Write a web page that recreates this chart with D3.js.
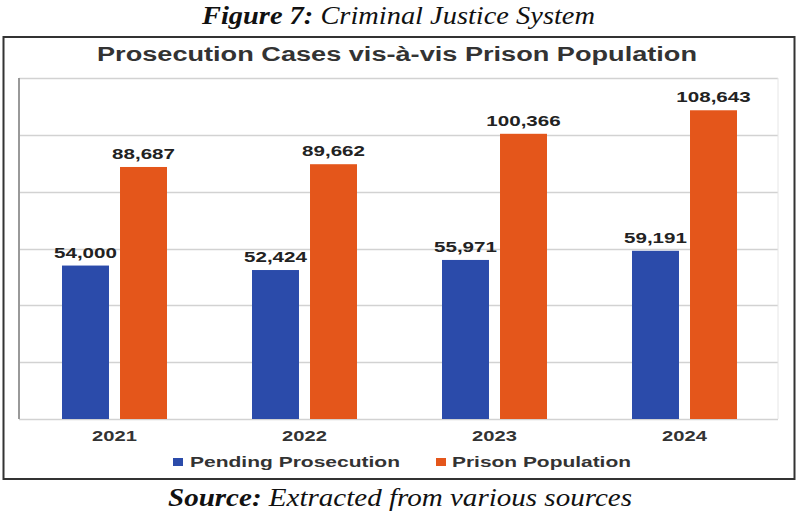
<!DOCTYPE html>
<html>
<head>
<meta charset="utf-8">
<script src="https://cdn.jsdelivr.net/npm/d3@7"></script>
<style>
  html, body { margin: 0; padding: 0; background: #fff; }
  svg { display: block; }
</style>
</head>
<body>
<svg id="chart" width="800" height="517"></svg>
<script>
const years = ["2021", "2022", "2023", "2024"];
const seriesNames = ["Pending Prosecution", "Prison Population"];
const pendingProsecution = [54000, 52424, 55971, 59191];
const prisonPopulation = [88687, 89662, 100366, 108643];
const yTicks = [0, 20000, 40000, 60000, 80000, 100000, 120000];
const colors = ["#2B4BAA", "#E4561B"];

const svg = d3.select("#chart");
const plot = { left: 19, right: 778, top: 78, bottom: 419 };
const sans = "'Liberation Sans', Arial, Helvetica, sans-serif";
const serif = "'Liberation Serif', 'DejaVu Serif', serif";

function stretch(sel, k) {
  sel.each(function () {
    const w = this.getComputedTextLength();
    d3.select(this).attr("textLength", w * k).attr("lengthAdjust", "spacingAndGlyphs");
  });
  return sel;
}
function fitTo(sel, w) {
  return sel.attr("textLength", w).attr("lengthAdjust", "spacingAndGlyphs");
}

// caption
const cap = svg.append("text")
  .attr("x", 398.5).attr("y", 24).attr("text-anchor", "middle")
  .attr("font-family", serif).attr("font-style", "italic").attr("font-size", 26).attr("fill", "#111");
cap.append("tspan").attr("font-weight", "bold").text("Figure 7:");
cap.append("tspan").text(" Criminal Justice System");
fitTo(cap, 393);

// outer border
svg.append("rect").attr("x", 3.5).attr("y", 37).attr("width", 791).attr("height", 442)
  .attr("fill", "none").attr("stroke", "#333").attr("stroke-width", 2);

// chart title
fitTo(svg.append("text")
  .attr("x", 397).attr("y", 61).attr("text-anchor", "middle")
  .attr("font-family", sans).attr("font-weight", "bold").attr("font-size", 19.5).attr("fill", "#333")
  .text("Prosecution Cases vis-à-vis Prison Population"), 600);

const y = d3.scaleLinear().domain([0, 120000]).range([plot.bottom, plot.top]);
const x0 = d3.scaleBand().domain(years).range([plot.left, plot.right + 1]).padding(0);
const x1 = d3.scaleBand().domain(seriesNames).range([43, 148]).paddingInner(0.19).paddingOuter(0);

// gridlines
svg.append("g").selectAll("line").data(yTicks).join("line")
  .attr("x1", plot.left).attr("x2", plot.right)
  .attr("y1", d => Math.round(y(d)) + 0.5).attr("y2", d => Math.round(y(d)) + 0.5)
  .attr("stroke", "#d2d2d2").attr("stroke-width", 1.5);
// plot frame sides
svg.append("line").attr("x1", plot.left).attr("x2", plot.left).attr("y1", plot.top).attr("y2", plot.bottom)
  .attr("stroke", "#999").attr("stroke-width", 2);
svg.append("line").attr("x1", plot.right).attr("x2", plot.right).attr("y1", plot.top).attr("y2", plot.bottom)
  .attr("stroke", "#e6e6e6").attr("stroke-width", 1);

const data = years.map((yr, i) => ({
  year: yr,
  values: [
    { key: seriesNames[0], value: pendingProsecution[i], color: colors[0] },
    { key: seriesNames[1], value: prisonPopulation[i], color: colors[1] }
  ]
}));

const groups = svg.append("g").selectAll("g").data(data).join("g")
  .attr("transform", d => `translate(${x0(d.year)},0)`);

groups.selectAll("rect").data(d => d.values).join("rect")
  .attr("x", d => x1(d.key)).attr("width", x1.bandwidth())
  .attr("y", d => y(d.value)).attr("height", d => y(0) - y(d.value))
  .attr("fill", d => d.color);

const fmt = d3.format(",");
stretch(groups.selectAll("text").data(d => d.values).join("text")
  .attr("x", d => x1(d.key) + x1.bandwidth() / 2)
  .attr("y", d => y(d.value) - 8)
  .attr("text-anchor", "middle")
  .attr("font-family", sans).attr("font-weight", "bold").attr("font-size", 15).attr("fill", "#222")
  .text(d => fmt(d.value)), 1.37);

// x axis
const xAxis = svg.append("g").attr("transform", `translate(0,${plot.bottom})`)
  .call(d3.axisBottom(x0).tickSize(0).tickPadding(0));
xAxis.select(".domain").remove();
xAxis.selectAll("text")
  .attr("dy", null).attr("y", 22)
  .attr("transform", d => `translate(${95.5 - x0.bandwidth() / 2},0)`)
  .attr("font-family", sans).attr("font-weight", "bold").attr("font-size", 15.5).attr("fill", "#333");
stretch(xAxis.selectAll("text"), 1.3);

// legend
const legendItems = [
  { name: seriesNames[0], color: colors[0], sx: 173, tx: 190, w: 210 },
  { name: seriesNames[1], color: colors[1], sx: 436, tx: 452, w: 179 }
];
const lg = svg.append("g").selectAll("g").data(legendItems).join("g");
lg.append("rect").attr("x", d => d.sx).attr("y", 458).attr("width", 10).attr("height", 8).attr("fill", d => d.color);
lg.append("text").attr("x", d => d.tx).attr("y", 467)
  .attr("font-family", sans).attr("font-weight", "bold").attr("font-size", 15.5).attr("fill", "#333")
  .attr("textLength", d => d.w).attr("lengthAdjust", "spacingAndGlyphs")
  .text(d => d.name);

// source caption
const src = svg.append("text")
  .attr("x", 400).attr("y", 506).attr("text-anchor", "middle")
  .attr("font-family", serif).attr("font-style", "italic").attr("font-size", 26).attr("fill", "#111");
src.append("tspan").attr("font-weight", "bold").text("Source:");
src.append("tspan").text(" Extracted from various sources");
fitTo(src, 464);
</script>
</body>
</html>
